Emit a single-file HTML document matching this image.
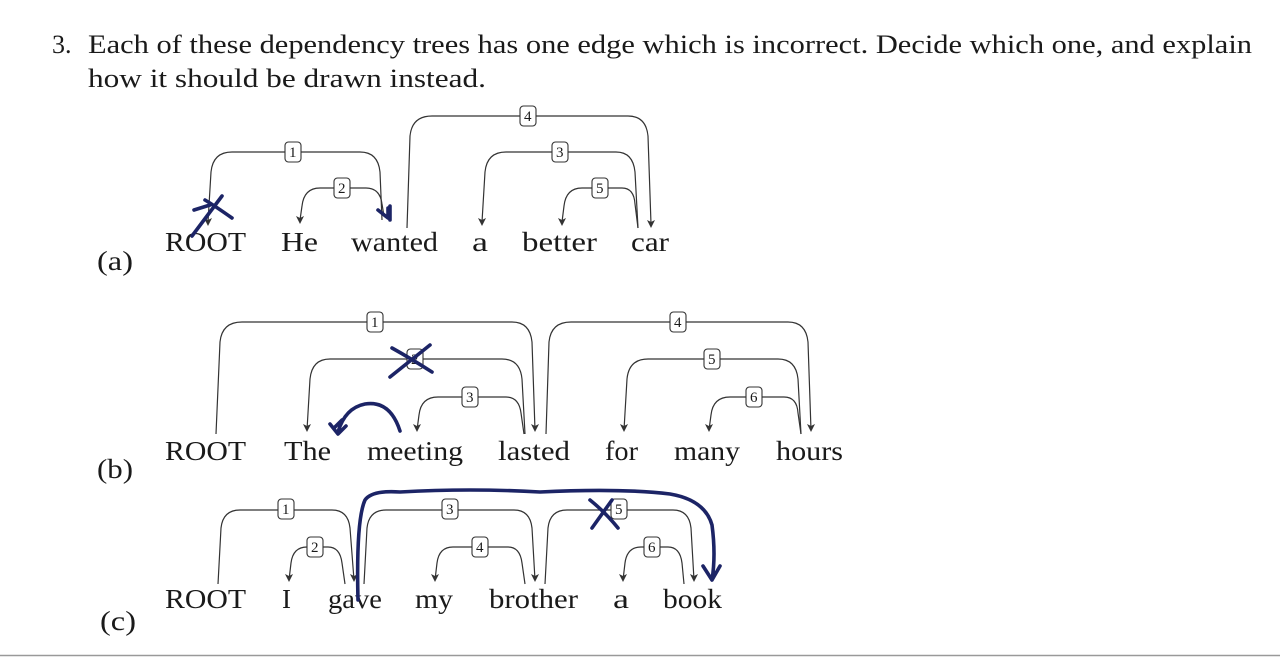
<!DOCTYPE html>
<html><head><meta charset="utf-8"><style>
html,body{margin:0;padding:0;background:#fff;}
svg{display:block;}
text{font-family:"Liberation Serif",serif;fill:#1a1a1a;}
.w{font-size:27px;}
.l{font-size:15px;}
.a{fill:none;stroke:#333;stroke-width:1.2;}
.b{fill:#fff;stroke:#333;stroke-width:1.1;}
.h{fill:none;stroke:#1c2466;stroke-width:3.6;stroke-linecap:round;stroke-linejoin:round;}
</style></head><body>
<svg width="1280" height="657" viewBox="0 0 1280 657" xmlns="http://www.w3.org/2000/svg">
<text x="52" y="53" style="font-size:26px">3.</text>
<text x="88" y="53" style="font-size:26px" textLength="1164" lengthAdjust="spacingAndGlyphs">Each of these dependency trees has one edge which is incorrect. Decide which one, and explain</text>
<text x="88" y="87" style="font-size:26px" textLength="398" lengthAdjust="spacingAndGlyphs">how it should be drawn instead.</text>

<!-- (a) -->
<text x="97" y="270" class="w" textLength="36" lengthAdjust="spacingAndGlyphs">(a)</text>
<g class="w">
<text x="165" y="251" textLength="81" lengthAdjust="spacingAndGlyphs">ROOT</text>
<text x="281" y="251" textLength="37" lengthAdjust="spacingAndGlyphs">He</text>
<text x="351" y="251" textLength="87" lengthAdjust="spacingAndGlyphs">wanted</text>
<text x="472" y="251" textLength="16" lengthAdjust="spacingAndGlyphs">a</text>
<text x="522" y="251" textLength="75" lengthAdjust="spacingAndGlyphs">better</text>
<text x="631" y="251" textLength="38" lengthAdjust="spacingAndGlyphs">car</text>
</g>
<path class="a" d="M208,222 L211,172 Q213,152 232,152 H360 Q378,152 380,172 L382,220"/>
<path class="a" d="M300,220 L302,206 Q304,188 320,188 H366 Q380,188 382,204 L384,216"/>
<path class="a" d="M407,228 L410,136 Q412,116 432,116 H628 Q646,116 648,136 L651,224"/>
<path class="a" d="M482,222 L485,172 Q487,152 506,152 H616 Q633,152 635,172 L638,228"/>
<path class="a" d="M562,222 L564,206 Q566,188 582,188 H622 Q634,188 635,204 L638,228"/>
<g fill="#333">
<path d="M204,218 L208,226 L212,218 L208,220Z"/><path d="M296,216 L300,224 L304,216 L300,218Z"/>
<path d="M647,220 L651,228 L655,220 L651,222Z"/><path d="M478,218 L482,226 L486,218 L482,220Z"/>
<path d="M558,218 L562,226 L566,218 L562,220Z"/>
</g>
<rect class="b" x="285" y="142" width="16" height="20" rx="3.5"/><text class="l" x="289" y="157">1</text>
<rect class="b" x="334" y="178" width="16" height="20" rx="3.5"/><text class="l" x="338" y="193">2</text>
<rect class="b" x="552" y="142" width="16" height="20" rx="3.5"/><text class="l" x="556" y="157">3</text>
<rect class="b" x="520" y="106" width="16" height="20" rx="3.5"/><text class="l" x="524" y="121">4</text>
<rect class="b" x="592" y="178" width="16" height="20" rx="3.5"/><text class="l" x="596" y="193">5</text>
<path class="h" d="M192,236 L222,196 M205,200 Q215,206 232,218 M194,210 L210,205"/>
<path class="h" d="M378,210 L388,218 L388,208 M390,206 L390,220"/>

<!-- (b) -->
<text x="97" y="478" class="w" textLength="36" lengthAdjust="spacingAndGlyphs">(b)</text>
<g class="w">
<text x="165" y="460" textLength="81" lengthAdjust="spacingAndGlyphs">ROOT</text>
<text x="284" y="460" textLength="47" lengthAdjust="spacingAndGlyphs">The</text>
<text x="367" y="460" textLength="96" lengthAdjust="spacingAndGlyphs">meeting</text>
<text x="498" y="460" textLength="72" lengthAdjust="spacingAndGlyphs">lasted</text>
<text x="605" y="460" textLength="33" lengthAdjust="spacingAndGlyphs">for</text>
<text x="674" y="460" textLength="66" lengthAdjust="spacingAndGlyphs">many</text>
<text x="776" y="460" textLength="67" lengthAdjust="spacingAndGlyphs">hours</text>
</g>
<path class="a" d="M216,434 L220,342 Q222,322 242,322 H512 Q530,322 532,342 L535,430"/>
<path class="a" d="M307,430 L310,379 Q312,359 330,359 H502 Q520,359 522,379 L525,434"/>
<path class="a" d="M417,430 L419,415 Q421,397 438,397 H506 Q519,397 521,413 L524,434"/>
<path class="a" d="M546,434 L549,342 Q551,322 571,322 H788 Q806,322 808,342 L811,430"/>
<path class="a" d="M624,430 L627,379 Q629,359 648,359 H778 Q796,359 798,379 L801,434"/>
<path class="a" d="M709,430 L711,415 Q713,397 730,397 H784 Q797,397 798,413 L801,434"/>
<g fill="#333">
<path d="M531,424 L535,432 L539,424 L535,426Z"/><path d="M303,424 L307,432 L311,424 L307,426Z"/>
<path d="M413,424 L417,432 L421,424 L417,426Z"/><path d="M807,424 L811,432 L815,424 L811,426Z"/>
<path d="M620,424 L624,432 L628,424 L624,426Z"/><path d="M705,424 L709,432 L713,424 L709,426Z"/>
</g>
<rect class="b" x="367" y="312" width="16" height="20" rx="3.5"/><text class="l" x="371" y="327">1</text>
<rect class="b" x="407" y="349" width="16" height="20" rx="3.5"/><text class="l" x="411" y="364">2</text>
<rect class="b" x="462" y="387" width="16" height="20" rx="3.5"/><text class="l" x="466" y="402">3</text>
<rect class="b" x="670" y="312" width="16" height="20" rx="3.5"/><text class="l" x="674" y="327">4</text>
<rect class="b" x="704" y="349" width="16" height="20" rx="3.5"/><text class="l" x="708" y="364">5</text>
<rect class="b" x="746" y="387" width="16" height="20" rx="3.5"/><text class="l" x="750" y="402">6</text>
<path class="h" d="M390,377 L430,345 M392,348 Q410,358 432,372"/>
<path class="h" d="M400,431 Q390,400 365,404 Q345,408 338,432 M330,424 L338,434 L346,426 M334,428 L342,420"/>

<!-- (c) -->
<text x="100" y="630" class="w" textLength="36" lengthAdjust="spacingAndGlyphs">(c)</text>
<g class="w">
<text x="165" y="608" textLength="81" lengthAdjust="spacingAndGlyphs">ROOT</text>
<text x="282" y="608">I</text>
<text x="328" y="608" textLength="54" lengthAdjust="spacingAndGlyphs">gave</text>
<text x="415" y="608" textLength="38" lengthAdjust="spacingAndGlyphs">my</text>
<text x="489" y="608" textLength="89" lengthAdjust="spacingAndGlyphs">brother</text>
<text x="613" y="608" textLength="16" lengthAdjust="spacingAndGlyphs">a</text>
<text x="663" y="608" textLength="59" lengthAdjust="spacingAndGlyphs">book</text>
</g>
<path class="a" d="M218,584 L221,528 Q223,510 240,510 H332 Q348,510 350,528 L354,580"/>
<path class="a" d="M289,580 L291,563 Q293,547 307,547 H328 Q340,547 342,563 L345,584"/>
<path class="a" d="M364,584 L367,528 Q369,510 386,510 H514 Q530,510 532,528 L535,580"/>
<path class="a" d="M435,580 L437,563 Q439,547 453,547 H508 Q520,547 522,563 L525,584"/>
<path class="a" d="M545,584 L548,528 Q550,510 567,510 H673 Q689,510 691,528 L694,580"/>
<path class="a" d="M623,580 L625,563 Q627,547 641,547 H668 Q680,547 682,563 L684,584"/>
<g fill="#333">
<path d="M350,574 L354,582 L358,574 L354,576Z"/><path d="M285,574 L289,582 L293,574 L289,576Z"/>
<path d="M531,574 L535,582 L539,574 L535,576Z"/><path d="M431,574 L435,582 L439,574 L435,576Z"/>
<path d="M690,574 L694,582 L698,574 L694,576Z"/><path d="M619,574 L623,582 L627,574 L623,576Z"/>
</g>
<rect class="b" x="278" y="499" width="16" height="20" rx="3.5"/><text class="l" x="282" y="514">1</text>
<rect class="b" x="307" y="537" width="16" height="20" rx="3.5"/><text class="l" x="311" y="552">2</text>
<rect class="b" x="442" y="499" width="16" height="20" rx="3.5"/><text class="l" x="446" y="514">3</text>
<rect class="b" x="472" y="537" width="16" height="20" rx="3.5"/><text class="l" x="476" y="552">4</text>
<rect class="b" x="611" y="499" width="16" height="20" rx="3.5"/><text class="l" x="615" y="514">5</text>
<rect class="b" x="644" y="537" width="16" height="20" rx="3.5"/><text class="l" x="648" y="552">6</text>
<path class="h" d="M358,600 Q356,520 365,500 Q372,490 400,492 Q470,488 540,492 Q620,488 670,494 Q705,500 712,525 Q716,555 712,580 M703,566 L712,580 L720,566"/>
<path class="h" d="M590,500 Q605,512 618,528 M592,528 L612,500"/>

<line x1="0" y1="655.5" x2="1280" y2="655.5" stroke="#999" stroke-width="1.5"/>
</svg>
</body></html>
